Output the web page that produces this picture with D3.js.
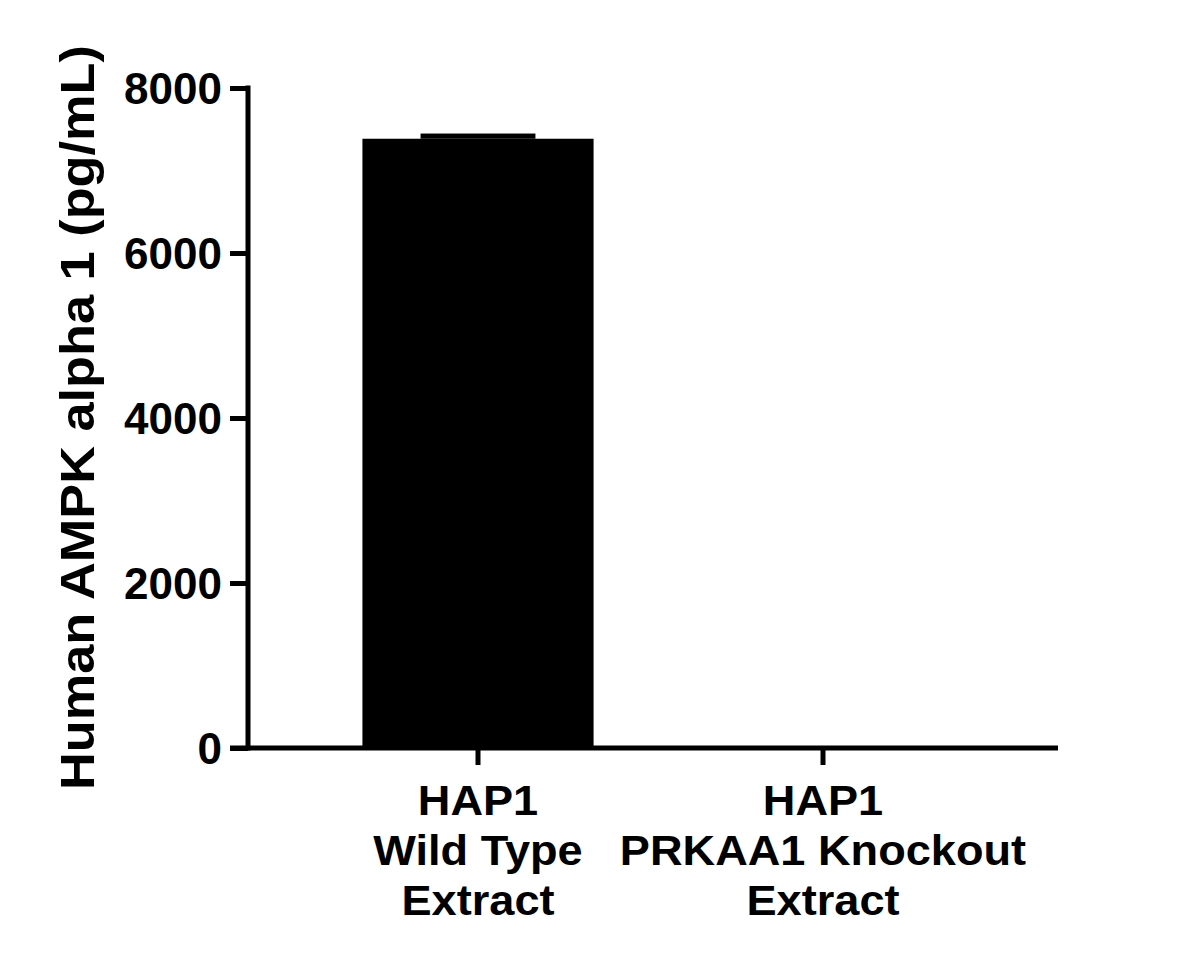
<!DOCTYPE html>
<html>
<head>
<meta charset="utf-8">
<script src="https://cdn.jsdelivr.net/npm/d3@7"></script>
<style>
  html, body { margin: 0; padding: 0; background: #fff; }
  svg { display: block; }
</style>
</head>
<body>
<svg id="chart" width="1193" height="962"></svg>
<script>
const categories = ["HAP1\nWild Type\nExtract", "HAP1\nPRKAA1 Knockout\nExtract"];
const means = [7385, 0];
const errors = [63, 0];
const yTicks = [0, 2000, 4000, 6000, 8000];
const yTitle = "Human AMPK alpha 1 (pg/mL)";

const svg = d3.select("#chart");
const axisX = 248, axisY = 748, xEnd = 1058;

const y = d3.scaleLinear().domain([0, 8000]).range([axisY, 88]);
const x = d3.scaleBand().domain(categories).range([305.5, 995.5]).padding(0);
const barW = x.bandwidth() * 0.67;
const capW = x.bandwidth() * 0.333;

// bars
svg.selectAll("rect.bar").data(categories).enter().append("rect")
  .attr("class", "bar")
  .attr("x", d => x(d) + x.bandwidth() / 2 - barW / 2)
  .attr("width", barW)
  .attr("y", (d, i) => y(means[i]))
  .attr("height", (d, i) => y(0) - y(means[i]))
  .attr("fill", "#000");

// error caps (upper)
svg.selectAll("rect.err").data(categories).enter().append("rect")
  .attr("class", "err")
  .attr("x", d => x(d) + x.bandwidth() / 2 - capW / 2)
  .attr("width", capW)
  .attr("y", (d, i) => y(means[i] + errors[i]))
  .attr("height", (d, i) => y(means[i]) - y(means[i] + errors[i]))
  .attr("fill", "#000");

// y axis
const yAxis = d3.axisLeft(y).tickValues(yTicks).tickSize(18).tickSizeOuter(0).tickPadding(8)
  .tickFormat(d3.format("d"));
const gy = svg.append("g").attr("transform", `translate(${axisX},0)`).call(yAxis);
gy.select(".domain").remove();
gy.selectAll(".tick line").attr("stroke", "#000").attr("stroke-width", 5);
gy.selectAll(".tick text")
  .attr("font-family", "'Liberation Sans', Arial, sans-serif")
  .attr("font-weight", "bold").attr("font-size", 44).attr("fill", "#000")
  .attr("dy", "0.35em");
gy.append("line").attr("x1", 0).attr("x2", 0)
  .attr("y1", y(8000) - 2.5).attr("y2", y(0) + 2.5)
  .attr("stroke", "#000").attr("stroke-width", 5);

// x axis
const xAxis = d3.axisBottom(x).tickSize(17).tickSizeOuter(0).tickFormat("");
const gx = svg.append("g").attr("transform", `translate(0,${axisY})`).call(xAxis);
gx.select(".domain").remove();
gx.selectAll(".tick line").attr("stroke", "#000").attr("stroke-width", 5);
gx.append("line").attr("x1", axisX - 18).attr("x2", xEnd)
  .attr("y1", 0).attr("y2", 0).attr("stroke", "#000").attr("stroke-width", 5);

// x labels
categories.forEach((c, i) => {
  const cx = x(c) + x.bandwidth() / 2;
  const lines = c.split("\n");
  lines.forEach((ln, j) => {
    svg.append("text")
      .attr("transform", `translate(${cx},${815 + j * 50}) scale(1.075,1)`)
      .attr("text-anchor", "middle")
      .attr("font-family", "'Liberation Sans', Arial, sans-serif")
      .attr("font-weight", "bold").attr("font-size", 42).attr("fill", "#000")
      .text(ln);
  });
});

// y title
const yt = svg.append("text")
  .attr("transform", `translate(94,417.5) rotate(-90)`)
  .attr("text-anchor", "middle")
  .attr("font-family", "'Liberation Sans', Arial, sans-serif")
  .attr("font-weight", "bold").attr("font-size", 49).attr("fill", "#000")
  .text(yTitle);
const natural = yt.node().getComputedTextLength();
if (natural < 745) {
  yt.attr("textLength", 745).attr("lengthAdjust", "spacingAndGlyphs");
}
</script>
</body>
</html>
